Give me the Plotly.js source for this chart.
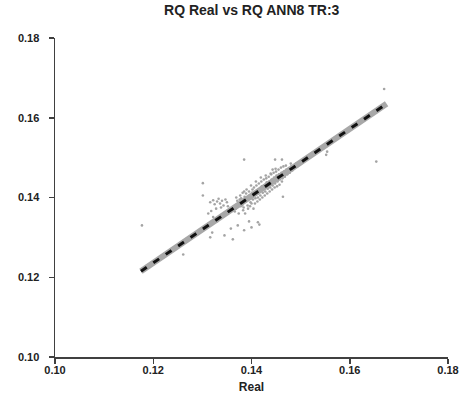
<!DOCTYPE html>
<html>
<head>
<meta charset="utf-8">
<script src="https://cdn.plot.ly/plotly-3.0.1.min.js"></script>
<style>html,body{margin:0;padding:0;background:#fff;}#chart{width:461px;height:394px;}</style>
</head>
<body>
<div id="chart"></div>
<script>
// Fitted band (RQ Real vs RQ ANN8)
const bandReal = [0.1175, 0.1675];
const bandAnn  = [0.1215, 0.1635];

// Scattered points
const scatReal = [
  0.1177, 0.1261, 0.1301, 0.1301, 0.1385, 0.1413, 0.1416, 0.1448, 0.1462, 0.1464, 0.1554, 0.1552, 0.1654, 0.1670,
  0.1316, 0.1322, 0.1325, 0.1330, 0.1333, 0.1336, 0.1340, 0.1343, 0.1347, 0.1350, 0.1352, 0.1338, 0.1328, 0.1318, 0.1312,
  0.1320, 0.1316, 0.1345, 0.1362, 0.1358, 0.1372, 0.1385, 0.1395, 0.1400, 0.1330, 0.1322,
  0.1371, 0.1368, 0.1373, 0.1366, 0.1369,
  0.1376, 0.1378, 0.1374, 0.1377,
  0.1381, 0.1379, 0.1383, 0.1382, 0.1380,
  0.1386, 0.1384, 0.1388, 0.1387, 0.1385,
  0.1391, 0.1389, 0.1392, 0.1393, 0.1390, 0.1394,
  0.1396, 0.1398, 0.1395, 0.1397, 0.1399,
  0.1401, 0.1403, 0.1400, 0.1402, 0.1404, 0.1399,
  0.1406, 0.1408, 0.1405, 0.1407, 0.1409,
  0.1411, 0.1413, 0.1410, 0.1412, 0.1414, 0.1409,
  0.1416, 0.1418, 0.1415, 0.1417,
  0.1421, 0.1423, 0.1420, 0.1422, 0.1424, 0.1419,
  0.1426, 0.1428, 0.1425, 0.1427,
  0.1431, 0.1433, 0.1430, 0.1432, 0.1429, 0.1434,
  0.1436, 0.1438, 0.1435, 0.1437, 0.1439,
  0.1441, 0.1443, 0.1440, 0.1442, 0.1444,
  0.1446, 0.1448, 0.1445, 0.1447, 0.1443,
  0.1451, 0.1453, 0.1450, 0.1452, 0.1449,
  0.1456, 0.1458, 0.1455, 0.1457,
  0.1461, 0.1463, 0.1460, 0.1462,
  0.1466, 0.1468, 0.1465,
  0.1471, 0.1473, 0.1470,
  0.1476, 0.1478,
  0.1481, 0.1483, 0.1480,
  0.1491, 0.1493
];
const scatAnn = [
  0.1330, 0.1257, 0.1436, 0.1405, 0.1495, 0.1338, 0.1332, 0.1495, 0.1495, 0.1402, 0.1515, 0.1507, 0.1490, 0.1672,
  0.1388, 0.1393, 0.1383, 0.1390, 0.1397, 0.1385, 0.1392, 0.1380, 0.1395, 0.1388, 0.1378, 0.1375, 0.1372, 0.1366, 0.1360,
  0.1312, 0.1300, 0.1305, 0.1295, 0.1322, 0.1330, 0.1318, 0.1340, 0.1325, 0.1340, 0.1351,
  0.1392, 0.1372, 0.1385, 0.1365, 0.1400,
  0.1395, 0.1378, 0.1360, 0.1405,
  0.1380, 0.1398, 0.1368, 0.1412, 0.1388,
  0.1402, 0.1375, 0.1390, 0.1360, 0.1415,
  0.1395, 0.1410, 0.1380, 0.1372, 0.1420, 0.1400,
  0.1405, 0.1388, 0.1415, 0.1378, 0.1398,
  0.1412, 0.1395, 0.1385, 0.1420, 0.1372, 0.1430,
  0.1408, 0.1398, 0.1425, 0.1385, 0.1415,
  0.1418, 0.1400, 0.1430, 0.1390, 0.1410, 0.1440,
  0.1420, 0.1405, 0.1435, 0.1395,
  0.1428, 0.1412, 0.1440, 0.1400, 0.1420, 0.1450,
  0.1430, 0.1415, 0.1445, 0.1405,
  0.1438, 0.1422, 0.1448, 0.1410, 0.1455, 0.1430,
  0.1440, 0.1425, 0.1452, 0.1415, 0.1460,
  0.1445, 0.1430, 0.1458, 0.1420, 0.1438,
  0.1450, 0.1435, 0.1462, 0.1425, 0.1470,
  0.1455, 0.1440, 0.1465, 0.1428, 0.1472,
  0.1458, 0.1445, 0.1470, 0.1432,
  0.1462, 0.1448, 0.1475, 0.1440,
  0.1465, 0.1452, 0.1478,
  0.1470, 0.1458, 0.1480,
  0.1474, 0.1462,
  0.1478, 0.1468, 0.1485,
  0.1485, 0.1478
];

const tickVals = [0.10, 0.12, 0.14, 0.16, 0.18];
const tickText = ['0.10', '0.12', '0.14', '0.16', '0.18'];

const fam = 'Arial, "Liberation Sans", sans-serif';
const font = {family: fam, color: '#222', size: 11, weight: 'bold'};

const traces = [
  {x: scatReal, y: scatAnn, mode: 'markers', type: 'scatter',
   marker: {color: '#a4a4a4', size: 2.6}, hoverinfo: 'skip'},
  {x: bandReal, y: bandAnn, mode: 'lines', type: 'scatter',
   line: {color: '#a8a8a8', width: 6}, hoverinfo: 'skip'},
  {x: bandReal, y: bandAnn, mode: 'lines', type: 'scatter',
   line: {color: '#111', width: 3, dash: '7px,8px'}, hoverinfo: 'skip'}
];

const axisCommon = {
  range: [0.10, 0.18], tickvals: tickVals, ticktext: tickText,
  showgrid: false, zeroline: false, showline: true,
  linecolor: '#404040', linewidth: 1.5,
  ticks: 'outside', ticklen: 5, tickcolor: '#404040', tickwidth: 1.5,
  tickfont: font, fixedrange: true
};

const layout = {
  width: 461, height: 394,
  margin: {l: 55, r: 13, t: 38, b: 37},
  paper_bgcolor: '#fff', plot_bgcolor: '#fff',
  showlegend: false,
  title: {text: 'RQ Real vs RQ ANN8 TR:3', x: 0.546, xanchor: 'center', yref: 'container', y: 0.975, yanchor: 'middle',
          font: {family: fam, size: 14, color: '#222', weight: 'bold'}},
  xaxis: Object.assign({}, axisCommon, {
    title: {text: 'Real', font: {family: fam, size: 12, color: '#222', weight: 'bold'}, standoff: 9},
    ticklabelstandoff: -3
  }),
  yaxis: Object.assign({}, axisCommon, {ticklabelstandoff: 7})
};

Plotly.newPlot('chart', traces, layout, {displayModeBar: false, staticPlot: true});
</script>
</body>
</html>
